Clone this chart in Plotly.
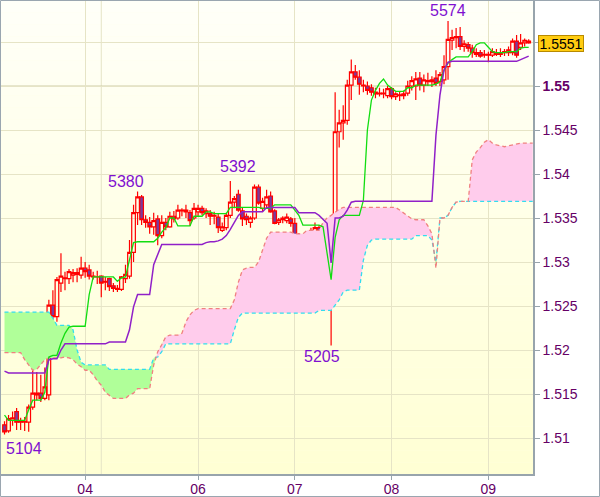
import plotly.graph_objects as go

# ---------------- data (hourly bars) ----------------
open_ = [1.5115,1.5108,1.5120,1.5130,1.5119,1.5118,1.5118,1.5135,1.5149,1.5151,
         1.5145,1.5149,1.5251,1.5238,1.5276,1.5281,1.5281,1.5285,1.5286,1.5285,
         1.5293,1.5291,1.5283,1.5283,1.5284,1.5278,1.5281,1.5273,1.5270,1.5269,
         1.5281,1.5284,1.5311,1.5356,1.5374,1.5348,1.5345,1.5340,1.5349,1.5330,
         1.5345,1.5340,1.5352,1.5350,1.5358,1.5359,1.5356,1.5350,1.5357,1.5361,
         1.5355,1.5355,1.5352,1.5351,1.5336,1.5339,1.5353,1.5368,1.5377,1.5358,
         1.5352,1.5345,1.5350,1.5385,1.5361,1.5365,1.5375,1.5358,1.5345,1.5348,
         1.5347,1.5349,1.5344,1.5330,1.5325,1.5327,1.5328,1.5327,1.5339,1.5331,
         1.5304,1.5302,1.5336,1.5448,1.5458,1.5461,1.5501,1.5516,1.5510,1.5500,
         1.5500,1.5498,1.5491,1.5492,1.5491,1.5489,1.5497,1.5488,1.5490,1.5489,
         1.5492,1.5500,1.5500,1.5509,1.5501,1.5506,1.5505,1.5509,1.5505,1.5507,
         1.5522,1.5552,1.5555,1.5556,1.5545,1.5547,1.5543,1.5538,1.5538,1.5535,
         1.5536,1.5535,1.5538,1.5536,1.5538,1.5538,1.5538,1.5551,1.5544,1.5549,
         1.5549]
high = [1.5119,1.5126,1.5130,1.5134,1.5123,1.5124,1.5138,1.5177,1.5175,1.5172,
        1.5180,1.5257,1.5268,1.5283,1.5310,1.5289,1.5292,1.5292,1.5293,1.5306,
        1.5300,1.5297,1.5289,1.5290,1.5285,1.5283,1.5282,1.5276,1.5274,1.5284,
        1.5297,1.5325,1.5365,1.5380,1.5376,1.5353,1.5351,1.5356,1.5353,1.5353,
        1.5350,1.5357,1.5358,1.5365,1.5361,1.5365,1.5359,1.5367,1.5365,1.5364,
        1.5361,1.5359,1.5357,1.5355,1.5345,1.5356,1.5392,1.5375,1.5382,1.5362,
        1.5355,1.5352,1.5388,1.5388,1.5373,1.5382,1.5380,1.5360,1.5350,1.5352,
        1.5355,1.5351,1.5350,1.5333,1.5330,1.5331,1.5339,1.5345,1.5342,1.5336,
        1.5311,1.5342,1.5493,1.5473,1.5478,1.5507,1.5530,1.5524,1.5518,1.5507,
        1.5505,1.5502,1.5498,1.5498,1.5497,1.5500,1.5499,1.5493,1.5494,1.5495,
        1.5506,1.5511,1.5516,1.5516,1.5513,1.5515,1.5511,1.5518,1.5516,1.5535,
        1.5574,1.5564,1.5566,1.5567,1.5552,1.5550,1.5547,1.5543,1.5541,1.5541,
        1.5539,1.5543,1.5542,1.5543,1.5542,1.5545,1.5554,1.5558,1.5559,1.5554,
        1.5553]
low = [1.5104,1.5106,1.5114,1.5109,1.5109,1.5108,1.5107,1.5132,1.5143,1.5141,
       1.5143,1.5143,1.5215,1.5232,1.5266,1.5268,1.5275,1.5277,1.5277,1.5281,
       1.5282,1.5280,1.5280,1.5275,1.5260,1.5268,1.5267,1.5266,1.5266,1.5267,
       1.5276,1.5281,1.5300,1.5342,1.5342,1.5339,1.5332,1.5331,1.5319,1.5327,
       1.5336,1.5339,1.5345,1.5348,1.5352,1.5350,1.5341,1.5348,1.5352,1.5353,
       1.5350,1.5342,1.5343,1.5333,1.5334,1.5336,1.5350,1.5361,1.5357,1.5341,
       1.5342,1.5339,1.5348,1.5365,1.5357,1.5362,1.5356,1.5343,1.5342,1.5344,
       1.5344,1.5340,1.5328,1.5318,1.5320,1.5322,1.5325,1.5325,1.5330,1.5300,
       1.5298,1.5205,1.5334,1.5430,1.5439,1.5456,1.5484,1.5507,1.5490,1.5493,
       1.5490,1.5489,1.5486,1.5488,1.5486,1.5486,1.5485,1.5484,1.5483,1.5485,
       1.5489,1.5495,1.5484,1.5495,1.5493,1.5500,1.5499,1.5500,1.5500,1.5502,
       1.5507,1.5541,1.5543,1.5541,1.5539,1.5539,1.5532,1.5533,1.5532,1.5532,
       1.5527,1.5533,1.5534,1.5533,1.5534,1.5534,1.5535,1.5532,1.5541,1.5545,
       1.5548]
close = [1.5107,1.5122,1.5123,1.5118,1.5118,1.5119,1.5135,1.5151,1.5151,1.5145,
         1.5158,1.5251,1.5238,1.5280,1.5284,1.5282,1.5289,1.5288,1.5288,1.5293,
         1.5289,1.5284,1.5284,1.5283,1.5276,1.5277,1.5272,1.5270,1.5269,1.5283,
         1.5286,1.5311,1.5356,1.5374,1.5348,1.5345,1.5340,1.5347,1.5330,1.5345,
         1.5340,1.5352,1.5349,1.5359,1.5359,1.5357,1.5347,1.5361,1.5361,1.5356,
         1.5358,1.5352,1.5353,1.5339,1.5340,1.5353,1.5368,1.5372,1.5359,1.5349,
         1.5348,1.5350,1.5385,1.5367,1.5369,1.5374,1.5357,1.5344,1.5348,1.5350,
         1.5351,1.5344,1.5330,1.5323,1.5327,1.5328,1.5330,1.5339,1.5332,1.5304,
         1.5302,1.5339,1.5448,1.5458,1.5461,1.5501,1.5516,1.5510,1.5502,1.5501,
         1.5495,1.5493,1.5493,1.5491,1.5492,1.5497,1.5488,1.5491,1.5489,1.5491,
         1.5500,1.5506,1.5508,1.5501,1.5507,1.5505,1.5507,1.5503,1.5513,1.5522,
         1.5553,1.5555,1.5556,1.5545,1.5548,1.5543,1.5538,1.5536,1.5534,1.5536,
         1.5535,1.5539,1.5536,1.5538,1.5539,1.5541,1.5551,1.5535,1.5549,1.5552,
         1.5551]

tenkan = [1.5126,1.5120,1.5120,1.5120,1.5120,1.5120,1.5132,1.5143,1.5143,1.5143,
          1.5152,1.5192,1.5194,1.5194,1.5208,1.5219,1.5226,1.5227,1.5227,1.5227,
          1.5227,1.5263,1.5283,1.5283,1.5283,1.5283,1.5283,1.5283,1.5278,1.5282,
          1.5283,1.5302,1.5322,1.5323,1.5323,1.5323,1.5323,1.5323,1.5327,1.5334,
          1.5339,1.5350,1.5350,1.5341,1.5341,1.5341,1.5341,1.5352,1.5352,1.5352,
          1.5357,1.5357,1.5355,1.5355,1.5355,1.5355,1.5362,1.5362,1.5362,1.5362,
          1.5362,1.5362,1.5362,1.5362,1.5361,1.5361,1.5361,1.5365,1.5365,1.5365,
          1.5365,1.5365,1.5359,1.5353,1.5342,1.5342,1.5342,1.5342,1.5342,1.5340,
          1.5310,1.5280,1.5328,1.5348,1.5353,1.5353,1.5353,1.5353,1.5353,1.5370,
          1.5450,1.5484,1.5495,1.5503,1.5508,1.5501,1.5497,1.5494,1.5494,1.5494,
          1.5498,1.5498,1.5501,1.5501,1.5501,1.5501,1.5501,1.5502,1.5505,1.5518,
          1.5526,1.5530,1.5533,1.5533,1.5533,1.5533,1.5539,1.5547,1.5549,1.5549,
          1.5544,1.5539,1.5538,1.5538,1.5538,1.5539,1.5539,1.5539,1.5543,1.5544,
          1.5544]
kijun = [1.5176,1.5174,1.5174,1.5174,1.5174,1.5174,1.5174,1.5174,1.5174,1.5174,
         1.5174,1.5189,1.5190,1.5190,1.5200,1.5207,1.5207,1.5207,1.5207,1.5207,
         1.5207,1.5207,1.5207,1.5207,1.5207,1.5207,1.5209,1.5209,1.5209,1.5209,
         1.5209,1.5223,1.5249,1.5263,1.5263,1.5263,1.5263,1.5297,1.5308,1.5320,
         1.5320,1.5320,1.5320,1.5320,1.5320,1.5320,1.5320,1.5320,1.5320,1.5320,
         1.5322,1.5323,1.5323,1.5324,1.5326,1.5330,1.5337,1.5345,1.5353,1.5357,
         1.5357,1.5357,1.5357,1.5357,1.5357,1.5362,1.5362,1.5362,1.5362,1.5362,
         1.5362,1.5362,1.5362,1.5356,1.5356,1.5356,1.5356,1.5356,1.5353,1.5348,
         1.5344,1.5299,1.5350,1.5350,1.5352,1.5359,1.5368,1.5369,1.5369,1.5369,
         1.5369,1.5369,1.5369,1.5369,1.5369,1.5369,1.5369,1.5369,1.5369,1.5369,
         1.5369,1.5369,1.5369,1.5369,1.5369,1.5369,1.5369,1.5444,1.5490,1.5518,
         1.5527,1.5528,1.5528,1.5528,1.5528,1.5528,1.5528,1.5528,1.5528,1.5528,
         1.5528,1.5528,1.5528,1.5528,1.5528,1.5528,1.5528,1.5528,1.5530,1.5532,
         1.5534]
senkou_a = [1.5197,1.5197,1.5197,1.5197,1.5197,1.5189,1.5183,1.5177,1.5178,1.5184,
            1.5189,1.5191,1.5191,1.5191,1.5191,1.5192,1.5191,1.5189,1.5184,1.5181,
            1.5177,1.5177,1.5172,1.5165,1.5160,1.5152,1.5148,1.5145,1.5145,1.5145,
            1.5145,1.5149,1.5151,1.5156,1.5156,1.5156,1.5156,1.5183,1.5198,1.5206,
            1.5215,1.5217,1.5217,1.5217,1.5219,1.5232,1.5240,1.5245,1.5247,1.5247,
            1.5247,1.5247,1.5247,1.5247,1.5247,1.5247,1.5247,1.5257,1.5277,1.5291,
            1.5293,1.5294,1.5294,1.5300,1.5314,1.5327,1.5334,1.5334,1.5334,1.5334,
            1.5334,1.5334,1.5332,1.5332,1.5332,1.5336,1.5336,1.5336,1.5336,1.5345,
            1.5350,1.5353,1.5357,1.5360,1.5362,1.5362,1.5362,1.5362,1.5362,1.5362,
            1.5362,1.5362,1.5362,1.5362,1.5362,1.5362,1.5362,1.5362,1.5359,1.5356,
            1.5352,1.5349,1.5348,1.5348,1.5348,1.5341,1.5332,1.5293,1.5350,1.5350,
            1.5353,1.5362,1.5368,1.5369,1.5369,1.5369,1.5416,1.5425,1.5430,1.5436,
            1.5439,1.5435,1.5433,1.5432,1.5431,1.5432,1.5433,1.5434,1.5435,1.5435,
            1.5435,1.5435]
senkou_b = [1.5243,1.5243,1.5243,1.5243,1.5243,1.5243,1.5243,1.5243,1.5243,1.5243,
            1.5243,1.5243,1.5236,1.5228,1.5228,1.5228,1.5228,1.5223,1.5200,1.5186,
            1.5183,1.5183,1.5183,1.5183,1.5183,1.5183,1.5178,1.5178,1.5178,1.5178,
            1.5178,1.5178,1.5178,1.5178,1.5178,1.5178,1.5178,1.5191,1.5192,1.5198,
            1.5207,1.5207,1.5207,1.5207,1.5207,1.5207,1.5207,1.5207,1.5207,1.5207,
            1.5207,1.5207,1.5207,1.5207,1.5207,1.5207,1.5207,1.5223,1.5237,1.5242,
            1.5242,1.5242,1.5242,1.5242,1.5242,1.5242,1.5242,1.5242,1.5242,1.5242,
            1.5242,1.5242,1.5242,1.5242,1.5242,1.5242,1.5242,1.5242,1.5245,1.5245,
            1.5245,1.5245,1.5251,1.5257,1.5266,1.5268,1.5268,1.5268,1.5268,1.5302,
            1.5319,1.5325,1.5326,1.5326,1.5326,1.5326,1.5326,1.5326,1.5326,1.5326,
            1.5326,1.5326,1.5330,1.5330,1.5330,1.5330,1.5325,1.5300,1.5350,1.5350,
            1.5353,1.5362,1.5368,1.5369,1.5369,1.5369,1.5369,1.5369,1.5369,1.5369,
            1.5369,1.5369,1.5369,1.5369,1.5369,1.5369,1.5369,1.5369,1.5369,1.5369,
            1.5369,1.5369]

day_ticks = [20, 48, 72, 96, 120]
day_labels = ["04", "06", "07", "08", "09"]
extra_day_grid = [24]
price_ticks = [1.51, 1.515, 1.52, 1.525, 1.53, 1.535, 1.54, 1.545, 1.55, 1.555]

# extreme labels: bar index, value, side
ext_idx = [0, 33, 56, 81, 110]
ext_val = [1.5104, 1.5380, 1.5392, 1.5205, 1.5574]
ext_side = ["below", "above", "above", "below", "above"]
ext_xshift = [19, -12, 8, -9, 0]
ext_yshift = [-5, 1, 5, -1, 1]

n = len(close)
bar_x = list(range(n))
cloud_x = list(range(len(senkou_a)))

# ---------------- helpers ----------------
def with_crossings(xs, a, b):
    X, A, B = [], [], []
    for k in range(len(xs)):
        if k > 0:
            d0 = a[k - 1] - b[k - 1]
            d1 = a[k] - b[k]
            if d0 * d1 < 0:
                t = d0 / (d0 - d1)
                xc = xs[k - 1] + t * (xs[k] - xs[k - 1])
                yc = a[k - 1] + t * (a[k] - a[k - 1])
                X.append(xc); A.append(yc); B.append(yc)
        X.append(xs[k]); A.append(a[k]); B.append(b[k])
    return X, A, B

X, A, B = with_crossings(cloud_x, senkou_a, senkou_b)
top = [max(p, q) for p, q in zip(A, B)]

fig = go.Figure()
# pink cloud (A above B)
fig.add_trace(go.Scatter(x=X, y=B, mode="lines", line=dict(width=0), hoverinfo="skip"))
fig.add_trace(go.Scatter(x=X, y=top, mode="lines", line=dict(width=0), fill="tonexty",
                         fillcolor="#FFCCEC", hoverinfo="skip"))
# green cloud (B above A)
fig.add_trace(go.Scatter(x=X, y=A, mode="lines", line=dict(width=0), hoverinfo="skip"))
fig.add_trace(go.Scatter(x=X, y=top, mode="lines", line=dict(width=0), fill="tonexty",
                         fillcolor="#B0FF99", hoverinfo="skip"))
# senkou span lines
fig.add_trace(go.Scatter(x=cloud_x, y=senkou_b, mode="lines",
                         line=dict(color="#33DDEE", width=1.3, dash="4px,3px")))
fig.add_trace(go.Scatter(x=cloud_x, y=senkou_a, mode="lines",
                         line=dict(color="#F08080", width=1.3, dash="4px,3px")))
# candles
fig.add_trace(go.Candlestick(
    x=bar_x, open=open_, high=high, low=low, close=close,
    increasing=dict(line=dict(color="#FF0000", width=1.2), fillcolor="rgba(0,0,0,0)"),
    decreasing=dict(line=dict(color="#FF0000", width=1.2), fillcolor="#7B3A9C"),
    whiskerwidth=0))
# tenkan / kijun
fig.add_trace(go.Scatter(x=bar_x, y=tenkan, mode="lines", line=dict(color="#11DD11", width=1.3)))
fig.add_trace(go.Scatter(x=bar_x, y=kijun, mode="lines", line=dict(color="#9020C8", width=1.5)))

# ---------------- background gradient ----------------
shapes = []
N = 40
c_bot = (255, 255, 212)
c_top = (255, 255, 248)
for k in range(N):
    t = (k + 0.5) / N
    col = tuple(round(c_bot[j] + (c_top[j] - c_bot[j]) * t) for j in range(3))
    shapes.append(dict(type="rect", xref="paper", yref="paper", x0=0, x1=1,
                       y0=k / N, y1=(k + 1) / N, fillcolor="rgb(%d,%d,%d)" % col,
                       line=dict(width=0), layer="below"))
for gx in extra_day_grid:
    shapes.append(dict(type="line", xref="x", yref="paper", x0=gx, x1=gx, y0=0, y1=1,
                       line=dict(color="#E6E4C6", width=1), layer="below"))
shapes.append(dict(type="line", xref="paper", yref="y", x0=0, x1=1, y0=1.55, y1=1.55,
                   line=dict(color="#CFCDA6", width=1), layer="below"))
# outer frame of the picture
pw, ph = 532, 473
shapes.append(dict(type="rect", xref="paper", yref="paper",
                   x0=-0.5 / pw, x1=1 + 66.5 / pw, y0=-22.5 / ph, y1=1 + 0.5 / ph,
                   line=dict(color="#9AA6B0", width=1), fillcolor="rgba(0,0,0,0)"))

annotations = []
for i, v, side, xs, ys in zip(ext_idx, ext_val, ext_side, ext_xshift, ext_yshift):
    annotations.append(dict(
        x=i, y=v, xref="x", yref="y", text=str(round(v * 10000) % 10000),
        showarrow=False, xanchor="center",
        yanchor="bottom" if side == "above" else "top",
        xshift=xs, yshift=ys, borderpad=0,
        font=dict(family="Liberation Sans, Arial", size=16, color="#8010D0")))
# last price box
annotations.append(dict(
    x=1 + 5 / pw, y=close[-1], xref="paper", yref="y", text="%.4f" % close[-1],
    showarrow=False, xanchor="left", yanchor="middle", yshift=-2,
    width=44, height=15, align="center", valign="middle",
    bgcolor="#FFCC10", bordercolor="#B88A00", borderwidth=1, borderpad=0,
    font=dict(family="Liberation Sans, Arial", size=14, color="#000000")))

tick_font = dict(family="Liberation Sans, Arial", size=14, color="#660066")
ytext = []
for v in price_ticks:
    if abs(v - 1.555) < 1e-9:
        ytext.append("")
    elif abs(v - 1.55) < 1e-9:
        ytext.append("<b>1.55</b>")
    else:
        ytext.append(("%.3f" % v).rstrip("0"))

fig.update_layout(
    width=600, height=497,
    margin=dict(l=1, r=67, t=1, b=23),
    paper_bgcolor="white", plot_bgcolor="#FFFFE6",
    showlegend=False, boxgap=0.05, boxgroupgap=0.05,
    shapes=shapes, annotations=annotations,
    xaxis=dict(range=[-0.87, 131.07], rangeslider=dict(visible=False),
               tickmode="array", tickvals=day_ticks, ticktext=day_labels,
               showgrid=True, gridcolor="#E6E4C6", gridwidth=1,
               ticks="outside", ticklen=4, tickcolor="#98A4AC",
               ticklabelstandoff=-3,
               showline=True, linecolor="#98A4AC", linewidth=1.5, zeroline=False,
               tickfont=tick_font, fixedrange=True, automargin=False),
    yaxis=dict(side="right", range=[1.505909, 1.559659],
               tickmode="array", tickvals=price_ticks, ticktext=ytext,
               showgrid=True, gridcolor="#E6E4C6", gridwidth=1,
               ticks="outside", ticklen=5, tickcolor="#98A4AC",
               showline=True, linecolor="#98A4AC", linewidth=1.5, zeroline=False,
               tickfont=tick_font, fixedrange=True, automargin=False),
)

fig.write_html("out.html", config={"displayModeBar": False})

# remove the browser's default page margin so the figure sits at the window's corner
with open("out.html", "r", encoding="utf-8") as fh:
    page = fh.read()
page = page.replace("<head>", "<head><style>html,body{margin:0;padding:0;overflow:hidden;}</style>", 1)
with open("out.html", "w", encoding="utf-8") as fh:
    fh.write(page)
